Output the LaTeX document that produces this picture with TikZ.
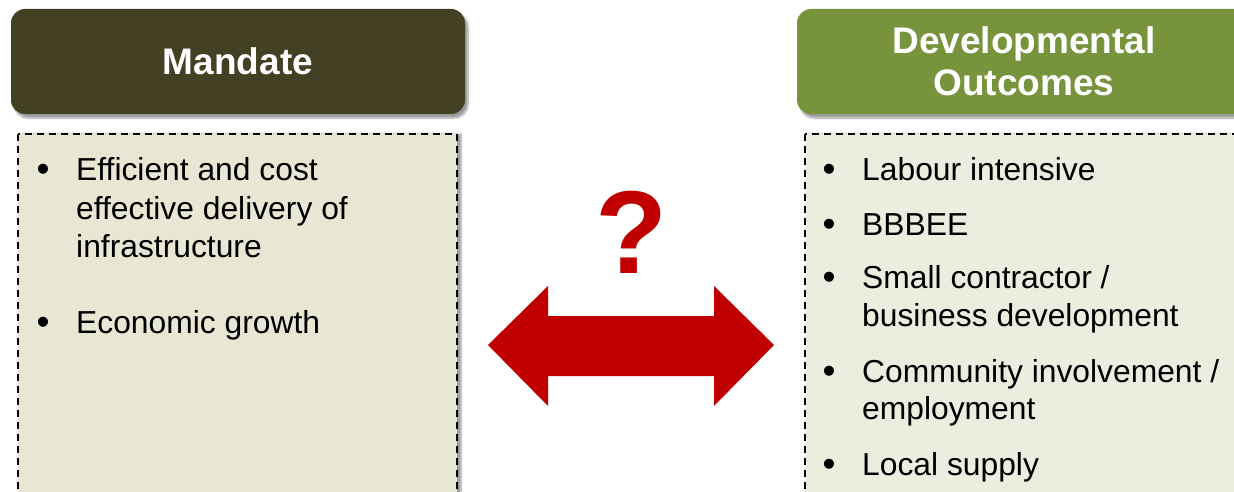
\documentclass[tikz,border=0pt]{standalone}
\usepackage{fontspec}
\setmainfont{Liberation Sans}
\usetikzlibrary{shadows,shadows.blur}
\definecolor{mandcol}{HTML}{434023}
\definecolor{devcol}{HTML}{77933C}
\definecolor{boxleft}{HTML}{E8E7D3}
\definecolor{boxright}{HTML}{EBEEDF}
\definecolor{arrred}{HTML}{C00000}
\tikzset{
  header/.style={rounded corners=14pt, text=white, font=\fontsize{37}{44}\selectfont\bfseries,
    align=center, inner sep=0pt, blur shadow={shadow xshift=3pt, shadow yshift=-4pt, shadow blur steps=6, shadow opacity=40}},
  contentbox/.style={draw=black, dashed, dash pattern=on 7pt off 5pt, line width=1.5pt,
    blur shadow={shadow xshift=4pt, shadow yshift=0pt, shadow blur steps=5, shadow opacity=40}},
  itemtxt/.style={anchor=base west, inner sep=0pt, font=\fontsize{31.8}{38}\selectfont},
  bul/.style={anchor=base, inner sep=0pt, font=\fontsize{37}{38}\selectfont},
}
\begin{document}
\begin{tikzpicture}[x=1pt,y=-1pt]
\useasboundingbox (0,0) rectangle (1234,492);
% headers
\node[header, fill=mandcol, minimum width=454pt, minimum height=105pt] (mand) at (238,61.5) {Mandate};
\node[header, fill=devcol, minimum width=454pt, minimum height=105pt] (dev) at (1024,61.5) {\raisebox{-2pt}{Developmental}\\Outcomes};
% content boxes
\path[contentbox, fill=boxleft] (18,134) rectangle (457,500);
\path[contentbox, fill=boxright] (805,134) rectangle (1250,500);
% left bullets
\node[bul] (lb1) at (43,181) {•};
\node[itemtxt] (l1a) at (76,180) {Efficient and cost};
\node[itemtxt] (l1b) at (76,219) {effective delivery of};
\node[itemtxt] (l1c) at (76,257) {infrastructure};
\node[bul] (lb2) at (43,334) {•};
\node[itemtxt] (l2) at (76,333) {Economic growth};
% right bullets
\node[bul] (rb1) at (829,181) {•};
\node[itemtxt] (r1) at (862,180) {Labour intensive};
\node[bul] (rb2) at (829,236) {•};
\node[itemtxt] (r2) at (862,235) {BBBEE};
\node[bul] (rb3) at (829,289) {•};
\node[itemtxt] (r3a) at (862,288) {Small contractor /};
\node[itemtxt] (r3b) at (862,326) {business development};
\node[bul] (rb4) at (829,383) {•};
\node[itemtxt] (r4a) at (862,382) {Community involvement /};
\node[itemtxt] (r4b) at (862,419) {employment};
\node[bul] (rb5) at (829,476) {•};
\node[itemtxt] (r5) at (862,475) {Local supply};
% question mark
\node[anchor=base, inner sep=0pt, text=arrred, font=\fontsize{118}{118}\selectfont\bfseries] (q) at (632,273) {?};
% double arrow
\fill[arrred] (488,345) -- (548,286) -- (548,316) -- (714,316) -- (714,286) -- (774,345)
  -- (714,406) -- (714,376) -- (548,376) -- (548,406) -- cycle;
\end{tikzpicture}
\end{document}
